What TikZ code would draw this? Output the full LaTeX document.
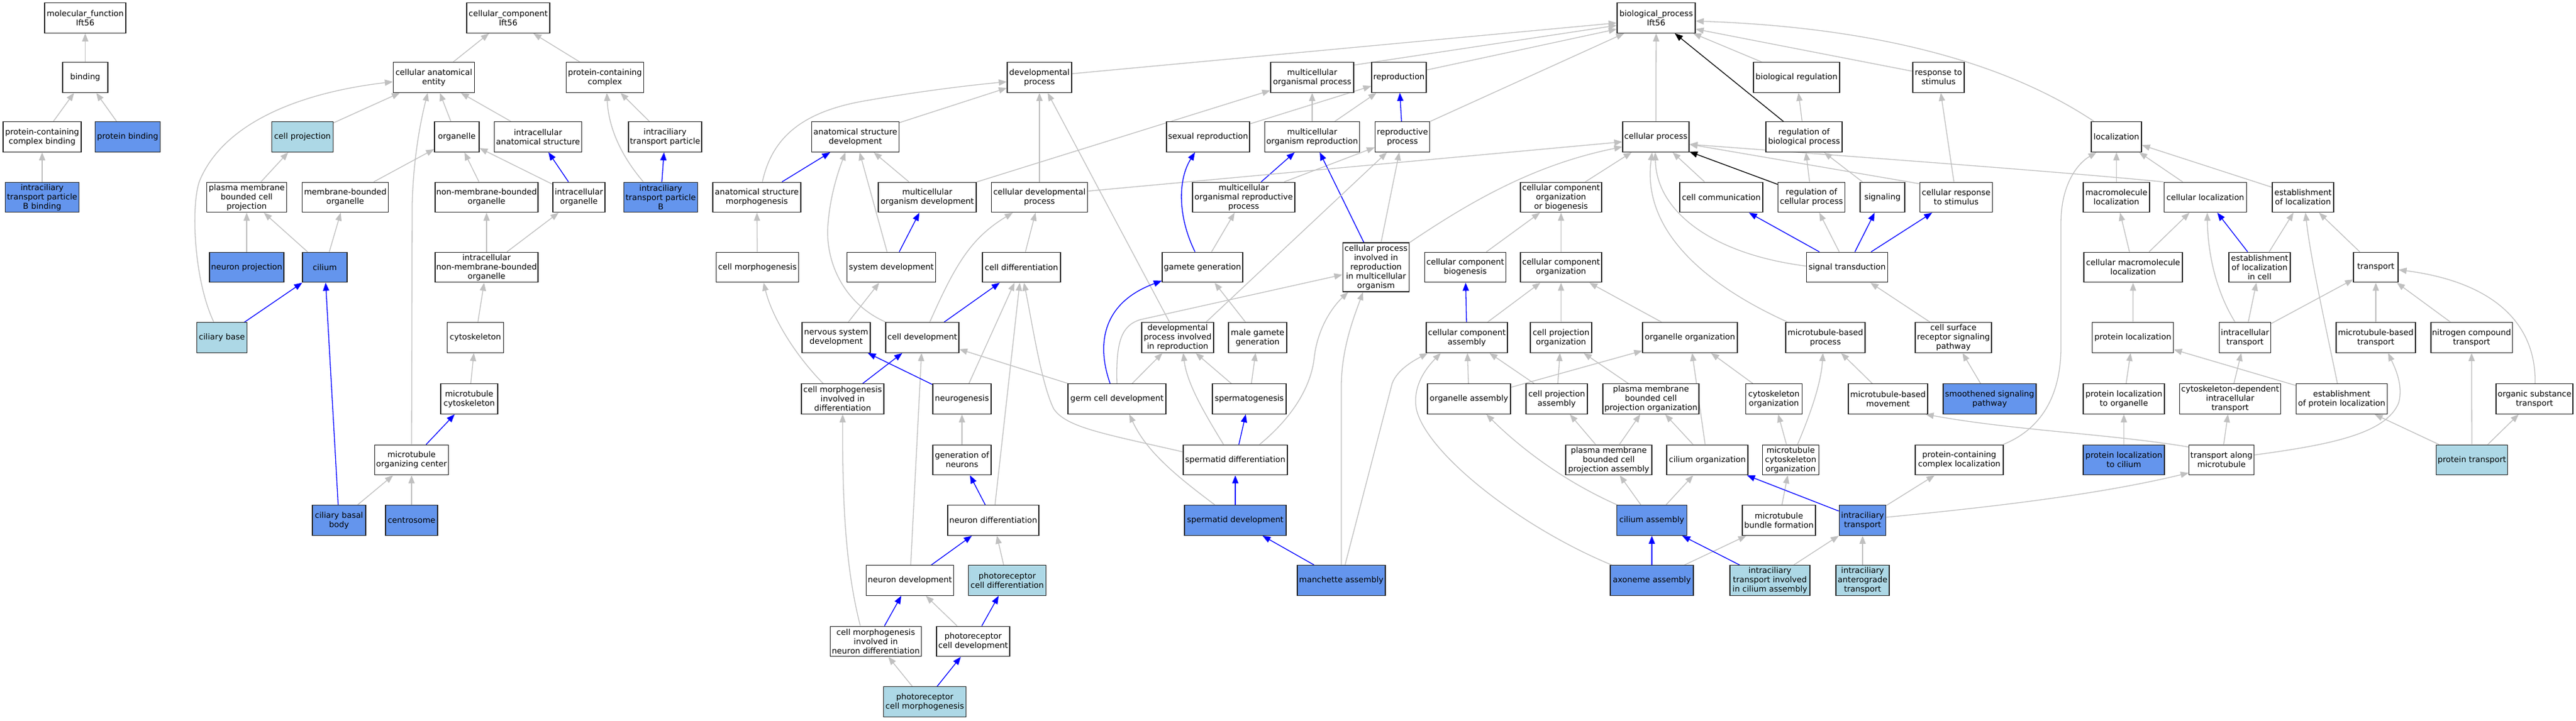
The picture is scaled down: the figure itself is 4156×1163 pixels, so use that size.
\documentclass[tikz,border=0pt]{standalone}
\usepackage{fontspec}
\newfontfamily\gofont{DejaVu Sans}
\usetikzlibrary{arrows.meta}
\definecolor{cblue}{RGB}{100,149,237}
\definecolor{lblue}{RGB}{173,216,230}
\definecolor{egray}{RGB}{192,192,192}
\pgfdeclarelayer{bg}
\pgfsetlayers{bg,main}
\tikzset{
  box/.style={draw=black!85, line width=1.3pt, fill=white, minimum height=48.5pt, inner xsep=2pt, inner ysep=0pt, align=center, font={\gofont\fontsize{13pt}{15pt}\selectfont}},
  bl/.style={box, fill=cblue},
  lb/.style={box, fill=lblue},
  eg/.style={draw=egray, line width=1.3pt, -{Triangle[length=13pt,width=10pt]}},
  ebl/.style={eg, draw=blue},
  ebk/.style={eg, draw=black},
}
\begin{document}
\begin{tikzpicture}[x=1pt,y=-1pt]
\useasboundingbox (0,0) rectangle (4156,1163);
% ---------- molecular function
\node[box,minimum width=131pt] (mf) at (137.5,29) {molecular\_function\\Ift56};
\node[box,minimum width=73pt] (binding) at (137.5,125) {binding};
\node[box,minimum width=126pt] (pcbind) at (68,221) {protein-containing\\complex binding};
\node[bl,minimum width=105pt] (protbind) at (206,221) {protein binding};
\node[bl,minimum width=119pt] (iftbbind) at (68,318.5) {intraciliary\\transport particle\\B binding};
% ---------- cellular component
\node[box,minimum width=134pt] (cc) at (820,29) {cellular\_component\\Ift56};
\node[box,minimum width=131pt] (cae) at (700,125) {cellular anatomical\\entity};
\node[box,minimum width=125pt] (pcc) at (976,125) {protein-containing\\complex};
\node[lb,minimum width=99pt] (cellproj) at (488,221) {cell projection};
\node[box,minimum width=72pt] (organelle) at (737,221) {organelle};
\node[box,minimum width=141pt] (ias) at (868,221) {intracellular\\anatomical structure};
\node[box,minimum width=118pt] (iftp) at (1073,221) {intraciliary\\transport particle};
\node[box,minimum width=129pt] (pmbcp) at (398,318.5) {plasma membrane\\bounded cell\\projection};
\node[box,minimum width=139pt] (mbo) at (557,318.5) {membrane-bounded\\organelle};
\node[box,minimum width=166pt] (nmbo) at (785,318.5) {non-membrane-bounded\\organelle};
\node[box,minimum width=84pt] (io) at (934,318.5) {intracellular\\organelle};
\node[bl,minimum width=119pt] (iftpb) at (1066,318.5) {intraciliary\\transport particle\\B};
\node[bl,minimum width=120pt] (neuronproj) at (398,431.5) {neuron projection};
\node[bl,minimum width=72pt] (cilium) at (524,431.5) {cilium};
\node[box,minimum width=166pt] (inmbo) at (785,431.5) {intracellular\\non-membrane-bounded\\organelle};
\node[lb,minimum width=81pt] (ciliarybase) at (358,545) {ciliary base};
\node[box,minimum width=91pt] (cytoskeleton) at (767,545) {cytoskeleton};
\node[box,minimum width=92pt] (mtcyto) at (757,644) {microtubule\\cytoskeleton};
\node[box,minimum width=119pt] (mtoc) at (664,742.5) {microtubule\\organizing center};
\node[bl,minimum width=86pt] (cbb) at (547,840) {ciliary basal\\body};
\node[bl,minimum width=84pt] (centrosome) at (664,840) {centrosome};
% ---------- development / reproduction
\node[box,minimum width=104pt] (devproc) at (1677,125) {developmental\\process};
\node[box,minimum width=134pt] (mop) at (2117,125) {multicellular\\organismal process};
\node[box,minimum width=88pt] (reproduction) at (2257,125) {reproduction};
\node[box,minimum width=141pt] (asd) at (1380,221) {anatomical structure\\development};
\node[box,minimum width=134pt] (sexrep) at (1949,221) {sexual reproduction};
\node[box,minimum width=153pt] (morep) at (2117,221) {multicellular\\organism reproduction};
\node[box,minimum width=88pt] (repproc) at (2262.6,221) {reproductive\\process};
\node[box,minimum width=142pt] (asm) at (1221,318.5) {anatomical structure\\morphogenesis};
\node[box,minimum width=158pt] (mod) at (1496,318.5) {multicellular\\organism development};
\node[box,minimum width=155pt] (cdp) at (1677,318.5) {cellular developmental\\process};
\node[box,minimum width=165pt] (morp) at (2006.5,318.5) {multicellular\\organismal reproductive\\process};
\node[box,minimum width=133pt] (cellmorph) at (1222,431.5) {cell morphogenesis};
\node[box,minimum width=143pt] (sysdev) at (1438,431.5) {system development};
\node[box,minimum width=126pt] (celldiff) at (1648,431.5) {cell differentiation};
\node[box,minimum width=130pt] (gamgen) at (1940,431.5) {gamete generation};
\node[box,minimum width=107.6pt,minimum height=79pt] (cpirmo) at (2220,431.5) {cellular process\\involved in\\reproduction\\in multicellular\\organism};
\node[box,minimum width=110pt] (nsd) at (1349,545) {nervous system\\development};
\node[box,minimum width=118pt] (celldev) at (1488,545) {cell development};
\node[box,minimum width=116pt] (dpir) at (1900,545) {developmental\\process involved\\in reproduction};
\node[box,minimum width=94pt] (mgg) at (2029,545) {male gamete\\generation};
\node[box,minimum width=133pt] (cmid) at (1359.5,644) {cell morphogenesis\\involved in\\differentiation};
\node[box,minimum width=94pt] (neurogenesis) at (1552,644) {neurogenesis};
\node[box,minimum width=158pt] (gcd) at (1802,644) {germ cell development};
\node[box,minimum width=119pt] (spermatogenesis) at (2015.5,644) {spermatogenesis};
\node[box,minimum width=94pt] (gon) at (1552,742.5) {generation of\\neurons};
\node[box,minimum width=168pt] (spermdiff) at (1993,742.5) {spermatid differentiation};
\node[box,minimum width=147pt] (neurondiff) at (1602.5,840) {neuron differentiation};
\node[bl,minimum width=164pt] (spermdev) at (1993,840) {spermatid development};
\node[box,minimum width=141.5pt] (neurondev) at (1468,937) {neuron development};
\node[lb,minimum width=125.5pt] (pcd) at (1625,937) {photoreceptor\\cell differentiation};
\node[bl,minimum width=142pt] (manchette) at (2164,937) {manchette assembly};
\node[box,minimum width=147pt] (cmind) at (1413,1035.5) {cell morphogenesis\\involved in\\neuron differentiation};
\node[box,minimum width=118pt] (pcdev) at (1570,1035.5) {photoreceptor\\cell development};
\node[lb,minimum width=133.5pt] (pcm) at (1492,1133) {photoreceptor\\cell morphogenesis};
% ---------- biological process right
\node[box,minimum width=126pt] (bp) at (2672,29) {biological\_process\\Ift56};
\node[box,minimum width=139pt] (bioreg) at (2898.5,125) {biological regulation};
\node[box,minimum width=83pt] (rts) at (3127.5,125) {response to\\stimulus};
\node[box,minimum width=107pt] (cellproc) at (2671.5,221) {cellular process};
\node[box,minimum width=123pt] (rbp) at (2910.5,221) {regulation of\\biological process};
\node[box,minimum width=81pt] (localization) at (3414.5,221) {localization};
\node[box,minimum width=131pt] (ccob) at (2518.5,318.5) {cellular component\\organization\\or biogenesis};
\node[box,minimum width=134pt] (cellcomm) at (2777,318.5) {cell communication};
\node[box,minimum width=108pt] (rcp) at (2922.5,318.5) {regulation of\\cellular process};
\node[box,minimum width=72pt] (signaling) at (3037,318.5) {signaling};
\node[box,minimum width=117.5pt] (crs) at (3156,318.5) {cellular response\\to stimulus};
\node[box,minimum width=107pt] (macloc) at (3414.5,318.5) {macromolecule\\localization};
\node[box,minimum width=133.5pt] (cellloc) at (3558,318.5) {cellular localization};
\node[box,minimum width=99pt] (eol) at (3715.5,318.5) {establishment\\of localization};
\node[box,minimum width=131pt] (ccb) at (2364,431.5) {cellular component\\biogenesis};
\node[box,minimum width=131pt] (cco) at (2518.5,431.5) {cellular component\\organization};
\node[box,minimum width=131pt] (sigtrans) at (2980,431.5) {signal transduction};
\node[box,minimum width=159pt] (cmacloc) at (3441.5,431.5) {cellular macromolecule\\localization};
\node[box,minimum width=99pt] (eolic) at (3645.5,431.5) {establishment\\of localization\\in cell};
\node[box,minimum width=72pt] (transport) at (3833,431.5) {transport};
\node[box,minimum width=131pt] (cca) at (2366.5,545) {cellular component\\assembly};
\node[box,minimum width=99pt] (cpo) at (2518.5,545) {cell projection\\organization};
\node[box,minimum width=153pt] (orgorg) at (2726.5,545) {organelle organization};
\node[box,minimum width=128pt] (mtbp) at (2945,545) {microtubule-based\\process};
\node[box,minimum width=123pt] (csrsp) at (3151.5,545) {cell surface\\receptor signaling\\pathway};
\node[box,minimum width=131pt] (protloc) at (3441,545) {protein localization};
\node[box,minimum width=83.5pt] (ict) at (3622,545) {intracellular\\transport};
\node[box,minimum width=128pt] (mtbt) at (3833,545) {microtubule-based\\transport};
\node[box,minimum width=131pt] (nct) at (3987.5,545) {nitrogen compound\\transport};
\node[box,minimum width=134pt] (orgasm) at (2370,644) {organelle assembly};
\node[box,minimum width=99pt] (cpa) at (2511.5,644) {cell projection\\assembly};
\node[box,minimum width=155pt] (pmbcpo) at (2663.5,644) {plasma membrane\\bounded cell\\projection organization};
\node[box,minimum width=91.5pt] (cytoorg) at (2862,644) {cytoskeleton\\organization};
\node[box,minimum width=128pt] (mtbm) at (3046,644) {microtubule-based\\movement};
\node[bl,minimum width=150pt] (smo) at (3210,644) {smoothened signaling\\pathway};
\node[box,minimum width=131pt] (plto) at (3426.5,644) {protein localization\\to organelle};
\node[box,minimum width=163pt] (cdict) at (3598,644) {cytoskeleton-dependent\\intracellular\\transport};
\node[box,minimum width=147pt] (epl) at (3778,644) {establishment\\of protein localization};
\node[box,minimum width=124pt] (ost) at (4089,644) {organic substance\\transport};
\node[box,minimum width=139pt] (pmbcpa) at (2595.5,742.5) {plasma membrane\\bounded cell\\projection assembly};
\node[box,minimum width=131pt] (ciliumorg) at (2754.5,742.5) {cilium organization};
\node[box,minimum width=91pt] (mtcytoorg) at (2889,742.5) {microtubule\\cytoskeleton\\organization};
\node[box,minimum width=142pt] (pccl) at (3161,742.5) {protein-containing\\complex localization};
\node[bl,minimum width=131pt] (pltc) at (3426.5,742.5) {protein localization\\to cilium};
\node[box,minimum width=104.5pt] (tam) at (3584,742.5) {transport along\\microtubule};
\node[lb,minimum width=115pt] (prottrans) at (3988,742.5) {protein transport};
\node[bl,minimum width=112.5pt] (ciliumasm) at (2665,840) {cilium assembly};
\node[box,minimum width=118pt] (mtbf) at (2870,840) {microtubule\\bundle formation};
\node[bl,minimum width=75.5pt] (ift) at (3005,840) {intraciliary\\transport};
\node[bl,minimum width=134pt] (axoneme) at (2665,937) {axoneme assembly};
\node[lb,minimum width=129pt] (iftica) at (2855.5,937) {intraciliary\\transport involved\\in cilium assembly};
\node[lb,minimum width=86pt] (ifta) at (3005,937) {intraciliary\\anterograde\\transport};

\begin{pgfonlayer}{bg}
\fill[white] (0,0) rectangle (4156,1163);
% straight gray
\foreach \a/\b in {binding/mf, pcbind/binding, protbind/binding, iftbbind/pcbind, cae/cc, pcc/cc, cellproj/cae, organelle/cae, ias/cae, mbo/organelle, pmbcp/cellproj, neuronproj/pmbcp, cilium/pmbcp, cilium/mbo, cbb/mtoc, centrosome/mtoc, mtcyto/cytoskeleton, cytoskeleton/inmbo, inmbo/nmbo, inmbo/io, nmbo/organelle, io/organelle, iftp/pcc,
 asd/devproc, mod/mop, mod/asd, sysdev/asd, cdp/devproc, celldiff/cdp, nsd/sysdev, cellmorph/asm, neurondev/celldev, gcd/celldev, neurogenesis/celldiff, neurondiff/celldiff, gon/neurogenesis, pcd/neurondiff, pcdev/neurondev, pcm/cmind,
 sexrep/reproduction, morep/reproduction, morep/mop, morp/repproc, cpirmo/repproc, gamgen/morp, mgg/gamgen, gcd/dpir, spermatogenesis/dpir, spermatogenesis/mgg, dpir/devproc,
 orgasm/cca, orgasm/orgorg, cpa/cca, cpa/cpo, pmbcpo/cpo, pmbcpa/cpa, pmbcpa/pmbcpo, ciliumorg/pmbcpo, ciliumorg/orgorg, ciliumasm/pmbcpa, ciliumasm/ciliumorg, axoneme/mtbf, iftica/ift, ifta/ift, ift/pccl, mtbf/mtcytoorg, mtcytoorg/cytoorg, cytoorg/orgorg, mtbm/mtbp, smo/csrsp, pltc/plto, plto/protloc,
 cellproc/bp, rbp/bioreg, rcp/rbp, cellcomm/cellproc, signaling/rbp, crs/rts, sigtrans/rcp, orgorg/cco, cpo/cco, cca/cco, ccb/ccob, cco/ccob, ccob/cellproc, csrsp/sigtrans, macloc/localization, cmacloc/macloc, cmacloc/cellloc, protloc/cmacloc, eolic/eol, transport/eol, ict/eolic, ict/transport, mtbt/transport, nct/transport, cdict/ict, epl/protloc, tam/cdict, prottrans/epl, prottrans/nct, prottrans/ost, eol/localization, cellloc/localization}
  \draw[eg] (\a) -- (\b);
% straight blue
\foreach \a/\b in {ciliarybase/cilium, cbb/cilium, mtoc/mtcyto, io/ias, iftpb/iftp, asm/asd, sysdev/mod, celldev/celldiff, cmid/celldev, neurogenesis/nsd, neurondiff/gon, neurondev/neurondiff, cmind/neurondev, pcdev/pcd, pcm/pcdev, morp/morep, cpirmo/morep, repproc/reproduction, spermdiff/spermatogenesis, spermdev/spermdiff, manchette/spermdev, cca/ccb, axoneme/ciliumasm, iftica/ciliumasm, ift/ciliumorg, sigtrans/cellcomm, sigtrans/signaling, sigtrans/crs, eolic/cellloc}
  \draw[ebl] (\a) -- (\b);
% straight with anchors
\draw[eg] ([xshift=-13pt]dpir.north east) -- ([xshift=-25pt]repproc.south);
\draw[eg] ([yshift=10pt]cdp.east) -- ([yshift=-8pt]cellproc.west);
\draw[eg] ([yshift=6pt]devproc.east) -- ([yshift=-8pt]bp.west);
\draw[eg] ([yshift=20pt]mop.east) -- ([yshift=-12pt]bp.west);
\draw[eg] ([yshift=12pt]reproduction.east) -- ([yshift=-18pt]bp.west);
\draw[eg] (repproc.north east) -- ([xshift=12pt]bp.south west);
\draw[eg] ([yshift=10pt]rts.west) -- ([yshift=-18pt]bp.east);
\draw[eg] ([xshift=14pt]bioreg.north west) -- ([xshift=-4pt]bp.south east);
\draw[ebk] ([xshift=29pt]rbp.north west) -- ([xshift=30pt]bp.south);
\draw[ebk] ([yshift=-4pt]rcp.north west) -- ([yshift=1pt]cellproc.south east);
\draw[eg] ([yshift=-3pt]crs.north west) -- ([yshift=-12pt]cellproc.east);
% curves
\draw[eg] ([xshift=-13pt]ciliarybase.north) .. controls (312,450) and (308,330) .. (322,292) .. controls (360,200) and (480,150) .. ([yshift=-7pt]cae.west);
\draw[eg] (mtoc.north) -- (665,330) .. controls (667,250) and (680,190) .. ([xshift=-10pt]cae.south);
\draw[eg] ([xshift=-28pt]iftpb.north) .. controls (1005,255) and (982,210) .. ([xshift=3pt]pcc.south);
\draw[eg] ([xshift=9pt]asm.north) .. controls (1245,225) and (1290,180) .. (1400,162) .. controls (1480,148) and (1560,138) .. ([yshift=-7pt]devproc.west);
\draw[eg] ([xshift=1pt]celldev.north west) .. controls (1360,490) and (1330,420) .. (1336,360) .. controls (1340,310) and (1355,270) .. ([xshift=-16pt]asd.south);
\draw[eg] ([xshift=12pt]celldev.north) .. controls (1540,430) and (1565,385) .. ([xshift=-43pt]cdp.south);
\draw[eg] ([xshift=-31.5pt]cmid.north) .. controls (1280,570) and (1245,510) .. ([xshift=10pt]cellmorph.south);
\draw[eg] ([xshift=-25pt]cmind.north) .. controls (1365,920) and (1359,820) .. (cmid.south);
\draw[ebl] ([xshift=-11pt]gcd.north) .. controls (1770,560) and (1775,490) .. ([yshift=3pt]gamgen.south west);
\draw[eg] (gcd.north) .. controls (1800,550) and (1810,525) .. (1840,516) -- ([yshift=-12pt]cpirmo.west);
\draw[ebl] ([xshift=-12pt]gamgen.north) .. controls (1900,350) and (1900,290) .. ([xshift=-21pt]sexrep.south);
\draw[eg] ([yshift=13pt]spermdiff.west) .. controls (1780,700) and (1720,690) .. (1700,660) .. controls (1680,620) and (1665,520) .. ([xshift=4pt]celldiff.south);
\draw[eg] ([xshift=-33pt]spermdev.north) .. controls (1900,770) and (1850,730) .. ([xshift=20pt]gcd.south);
\draw[eg] ([xshift=39pt]spermdiff.north) .. controls (2090,670) and (2115,620) .. (2120,580) .. controls (2125,530) and (2150,495) .. ([xshift=-45pt]cpirmo.south);
\draw[eg] ([xshift=-19pt]spermdiff.north) .. controls (1945,670) and (1915,620) .. ([xshift=9pt]dpir.south);
\draw[eg] (manchette.north) -- (2164,620) .. controls (2165,560) and (2185,510) .. ([xshift=-21pt]cpirmo.south);
\draw[eg] ([xshift=6pt]manchette.north) -- (2246,619) .. controls (2255,595) and (2285,580) .. ([xshift=3pt]cca.south west);
\draw[eg] ([xshift=3pt]axoneme.north west) .. controls (2450,850) and (2300,730) .. (2285,660) .. controls (2278,620) and (2305,590) .. ([xshift=-42pt]cca.south);
\draw[eg] ([xshift=1pt]ciliumasm.north west) .. controls (2530,780) and (2460,730) .. ([xshift=28pt]orgasm.south);
\draw[eg] ([xshift=11pt]mtcytoorg.north) .. controls (2920,670) and (2938,620) .. ([xshift=-4pt]mtbp.south);
\draw[eg] ([xshift=-1pt]pccl.north east) .. controls (3300,690) and (3325,630) .. (3325,560) -- (3325,360) .. controls (3325,300) and (3350,265) .. ([xshift=9pt]localization.south west);
\draw[eg] ([yshift=8pt]tam.east) .. controls (3760,718) and (3850,700) .. (3870,650) .. controls (3878,620) and (3862,590) .. ([xshift=20pt]mtbt.south);
\draw[eg] ([yshift=-4pt]tam.north west) .. controls (3400,700) and (3250,695) .. ([xshift=-4pt]mtbm.south east);
\draw[eg] ([yshift=5pt]ift.east) .. controls (3250,815) and (3400,795) .. ([yshift=4pt]tam.south west);
\draw[eg] ([xshift=1pt]ost.north) .. controls (4092,520) and (4020,455) .. ([yshift=-4pt]transport.east);
\draw[eg] ([xshift=-16pt]ict.north) .. controls (3575,470) and (3562,410) .. ([xshift=3pt]cellloc.south);
\draw[eg] ([xshift=-7pt]epl.north) .. controls (3755,540) and (3728,420) .. ([xshift=4pt]eol.south);
\draw[eg] ([xshift=-36pt]localization.north) .. controls (3250,110) and (3050,45) .. ([yshift=-5pt]bp.east);
\draw[eg] ([yshift=2pt]sigtrans.west) .. controls (2760,410) and (2672,340) .. ([xshift=-1pt]cellproc.south);
\draw[eg] ([xshift=4pt]mtbp.north west) .. controls (2730,450) and (2650,360) .. ([xshift=-6pt]cellproc.south);
\draw[eg] (cpirmo.north east) .. controls (2380,320) and (2480,265) .. ([yshift=-16pt]cellproc.west);
\draw[eg] (cellloc.north west) .. controls (3300,275) and (2950,250) .. ([yshift=-12pt]cellproc.east);
\end{pgfonlayer}
\end{tikzpicture}
\end{document}
